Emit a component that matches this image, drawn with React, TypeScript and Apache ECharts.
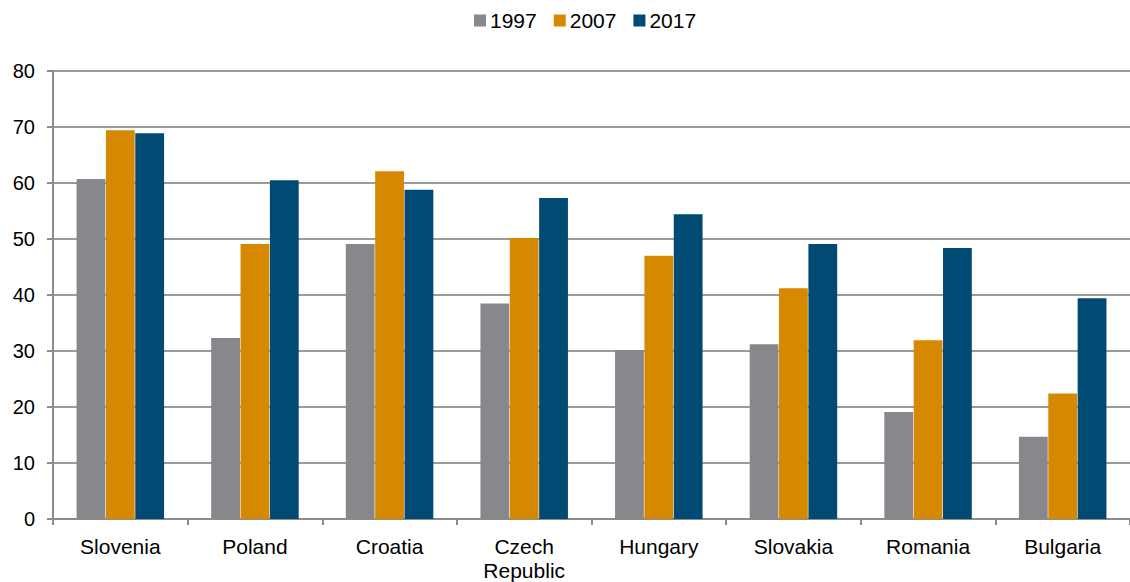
import React, { useEffect, useRef } from "react";
import * as echarts from "echarts";

const categories = ["Slovenia", "Poland", "Croatia", "Czech\nRepublic", "Hungary", "Slovakia", "Romania", "Bulgaria"];
const v1997 = [60.7, 32.3, 49.1, 38.5, 30.2, 31.2, 19.1, 14.7];
const v2007 = [69.4, 49.1, 62.1, 50.2, 47.0, 41.2, 31.9, 22.4];
const v2017 = [68.9, 60.5, 58.8, 57.3, 54.4, 49.1, 48.4, 39.4];
const seriesNames = ["1997", "2007", "2017"];
const colors = ["#87878c", "#d68800", "#004a73"];

export default function App() {
  const ref = useRef<HTMLDivElement>(null);
  useEffect(() => {
    const chart = echarts.init(ref.current!, null, { renderer: "svg" });
    const font = "'Liberation Sans', Arial, sans-serif";
    const data = [v1997, v2007, v2017];
    chart.setOption({
      animation: false,
      textStyle: { fontFamily: font },
      legend: {
        top: 5,
        left: 469,
        itemWidth: 12,
        itemHeight: 12,
        itemGap: 17,
        icon: "rect",
        textStyle: { fontSize: 21, color: "#000", fontFamily: font, padding: [0, 0, 0, -1] },
        data: seriesNames,
      },
      grid: { left: 53, top: 71, right: -4, bottom: 60, containLabel: false },
      xAxis: {
        type: "category",
        data: categories,
        axisLine: { lineStyle: { color: "#8c8c8c", width: 2 } },
        axisTick: { show: true, length: 6, lineStyle: { color: "#8c8c8c", width: 2 } },
        axisLabel: { fontSize: 21, color: "#000", margin: 15, lineHeight: 24, fontFamily: font },
      },
      yAxis: {
        type: "value",
        min: 0,
        max: 80,
        interval: 10,
        axisLine: { show: true, lineStyle: { color: "#8c8c8c", width: 2 } },
        axisTick: { show: true, length: 6, lineStyle: { color: "#8c8c8c", width: 2 } },
        splitLine: { lineStyle: { color: "#9a9a9a", width: 2 } },
        axisLabel: { fontSize: 20, color: "#000", margin: 18, fontFamily: font },
      },
      series: seriesNames.map((n, i) => ({
        name: n,
        type: "bar",
        data: data[i],
        barGap: "2%",
        barCategoryGap: "35%",
        itemStyle: { color: colors[i] },
      })),
    });
    return () => chart.dispose();
  }, []);
  return (
    <div
      ref={ref}
      style={{ position: "absolute", left: 0, top: 0, width: 1130, height: 582 }}
    />
  );
}
